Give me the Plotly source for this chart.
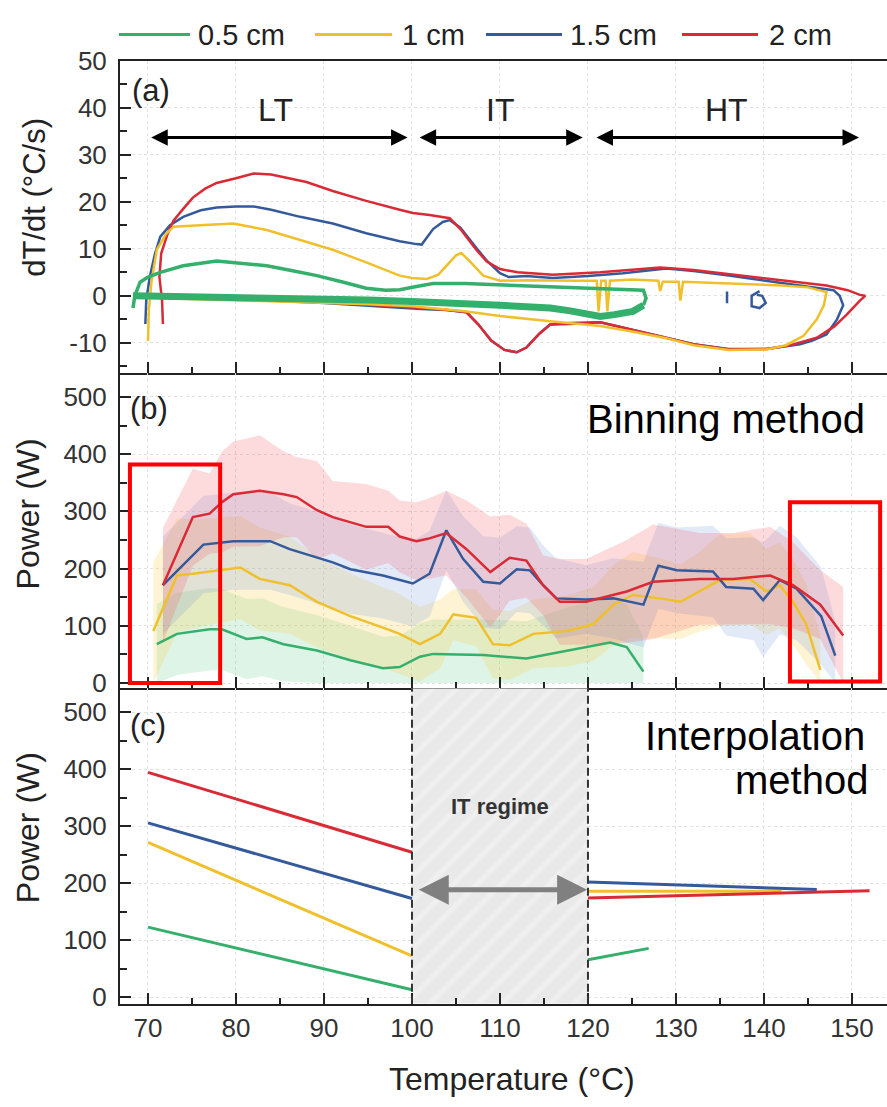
import plotly.graph_objects as go

# ---------------- data ----------------
SERIES = ["0.5 cm", "1 cm", "1.5 cm", "2 cm"]
COLORS = ["#35b06c", "#f0c02c", "#355a9c", "#d92a35"]
BAND_COLORS = ["rgba(70,195,115,0.18)", "rgba(250,205,60,0.22)",
               "rgba(110,150,220,0.2)", "rgba(245,90,100,0.22)"]

X_TICKS = [70, 80, 90, 100, 110, 120, 130, 140, 150]
A_TICKS = [-10, 0, 10, 20, 30, 40, 50]
P_TICKS = [0, 100, 200, 300, 400, 500]
IT_REGIME = [100, 120]

# panel (a): dT/dt vs temperature (heating then cooling loop)
a_x_2 = [71.7, 71.6, 71.3, 71.5, 72.2, 72.9, 74.0, 75.1, 76.5, 77.8, 80.0, 82.0, 84.0, 85.4, 88.0, 91.0, 94.8, 98.6,
         100.1, 102.0, 104.3, 105.5, 107.3, 108.5, 110.0, 112.0, 116.0, 121.4, 125.0, 128.2, 132.0, 136.0, 140.3,
         144.0, 147.1, 149.5, 150.9, 151.5, 150.9, 149.4, 148.0, 146.0, 143.0, 140.3, 136.0, 132.0, 128.9, 125.0,
         121.4, 118.0, 115.7, 114.5, 113.0, 111.9, 110.5, 109.0, 107.5, 106.2, 104.0, 101.0, 98.6, 95.0, 90.0,
         85.0, 80.0, 75.0, 72.0]
a_y_2 = [-6, -1, 4, 9, 13, 16, 18.5, 20.9, 22.8, 24, 25, 26, 25.8, 25.2, 24.2, 22.3, 20.2, 18.3,
         17.6, 17.2, 16.5, 14.2, 9.8, 7.3, 5.7, 5, 4.5, 5, 5.5, 6, 5.5, 4.6, 3.6,
         2.8, 2.2, 1.2, 0.2, 0, -1, -4, -6.5, -8.9, -10.5, -11.3, -11.4, -10.3, -8.9, -7.3,
         -5.6, -6, -6.1, -8, -11, -12, -11.5, -9.5, -6, -3.5, -3, -2.6, -2.3, -1.8, -1.3,
         -1, -0.6, -0.3, 0]

a_x_15 = [69.7, 69.8, 70.2, 70.8, 71.4, 72.5, 74.0, 76.0, 77.8, 80.0, 82.0, 84.0, 87.3, 91.0, 94.8, 98.6, 100.5,
          101.1, 102.4, 103.5, 104.3, 105.5, 107.3, 108.5, 110.0, 111.0, 113.0, 116.0, 120.0, 124.0, 128.9, 132.0,
          136.0, 140.3, 144.0, 147.9, 148.6, 149.0, 148.3, 147.1, 145.5, 144.1, 140.3, 136.0, 132.0, 128.9, 125.0,
          121.4, 118.0, 115.7, 114.5, 113.0, 111.9, 110.5, 109.0, 107.5, 106.2, 104.0, 101.0, 98.6, 95.0, 90.0,
          85.0, 80.0, 75.0, 70.0,
          None, 135.8, 135.8,
          None, 139.5, 138.6, 138.6, 139.5, 140.2, 139.8, 139.2]
a_y_15 = [-6, -1, 4, 9, 12.6, 15, 16.8, 18.2, 18.8, 19, 19, 18.3, 16.8, 15.4, 13.3, 11.6, 11,
          10.9, 14.2, 15.7, 16.1, 14.5, 10.2, 7.5, 4.8, 4, 4.2, 3.8, 4.2, 4.8, 5.8, 5.3,
          4.3, 3.2, 2.2, 1.2, 0, -2, -5, -8.2, -9.5, -10.3, -11.3, -11.3, -10.3, -8.9, -7.3,
          -5.6, -5.8, -6.1, -8, -11, -12, -11.5, -9.5, -6, -3.5, -3, -2.8, -2.5, -2, -1.5,
          -1.1, -0.7, -0.4, 0,
          None, 0.9, -1.6,
          None, 1.0, 0, -2.2, -2.6, -1.5, 0, 0.2]

a_x_1 = [70.0, 70.1, 70.4, 71.0, 72.0, 72.9, 75.9, 79.7, 83.5, 87.3, 91.0, 94.8, 98.6, 100.0, 101.7, 103.0, 103.9,
         105.0, 105.6, 106.5, 108.1, 110.0, 113.0, 116.0, 119.0, 121.0, 121.2, 121.5, 122.0, 122.2, 122.5, 125.0,
         128.0, 128.2, 128.5, 130.3, 130.5, 130.8, 134.0, 138.0, 142.0, 145.0, 147.1, 146.8, 146.0, 144.5, 142.5,
         140.3, 136.0, 132.0, 128.9, 125.0, 121.4, 115.7, 110.0, 106.0, 100.0, 95.0, 90.0, 80.0, 72.0, 70.0]
a_y_1 = [-9.6, -3, 3, 9.8, 13, 14.7, 15, 15.4, 14, 11.9, 9.8, 7.1, 4.3, 3.8, 3.6, 4.5, 6.4,
         8.6, 9.1, 7.5, 4.3, 3.2, 3.3, 3.2, 3.2, 3.2, -3.3, 3.2, 3.2, -3.3, 3.2, 3.5,
         3.2, 1.0, 3.0, 3.0, -1.0, 3.0, 2.8, 2.6, 2.2, 1.8, 0.8, -2.0, -5.0, -8.5, -10.5,
         -11.4, -11.5, -10.5, -9.0, -7.6, -6.4, -5.4, -4.3, -3.3, -2.2, -1.8, -1.5, -1.0, -0.5, 0]

a_x_05_heat = [68.3, 68.5, 69.1, 70.0, 71.4, 74.0, 77.8, 80.0, 83.5, 86.0, 89.2, 92.0, 94.8, 97.0, 98.6, 100.5,
               102.4, 106.0, 110.0, 115.0, 120.0, 126.3, 126.6, 126.3]
a_y_05_heat = [-2.6, 0, 2.9, 4.0, 5.0, 6.4, 7.4, 7.0, 6.4, 5.5, 4.3, 3.0, 1.6, 1.2, 1.3, 2.0,
               2.6, 2.6, 2.3, 2.0, 1.6, 1.2, -0.5, -2.0]
a_x_05_cool = [126.3, 125.1, 123.0, 121.4, 118.0, 115.7, 110.0, 105.0, 100.0, 95.0, 90.0, 85.0, 80.0, 75.0, 70.0, 68.3]
a_y_05_cool = [-2.0, -3.3, -4.0, -4.4, -3.2, -2.6, -2.0, -1.5, -1.2, -0.9, -0.7, -0.5, -0.3, -0.2, 0.0, 0.0]

# panel (b): binning method, mean and spread
b_x_05 = [71.0, 73.3, 77.0, 78.4, 81.2, 83.0, 85.4, 89.2, 93.0, 96.7, 98.6, 100.9, 102.4, 108.1, 113.0, 117.6,
          122.5, 124.4, 126.3]
b_m_05 = [68, 86, 94, 94, 77, 80, 68, 57, 40, 26, 28, 46, 51, 49, 43, 57, 71, 63, 20]
b_s_05 = [70, 72, 72, 71, 70, 68, 65, 62, 60, 55, 55, 58, 60, 62, 65, 75, 78, 75, 60]

b_x_1 = [70.6, 73.3, 75.1, 80.5, 82.7, 86.1, 89.2, 93.0, 96.7, 98.6, 100.9, 103.2, 104.7, 107.3, 109.2, 111.1,
         113.8, 117.6, 120.6, 122.9, 125.1, 128.2, 130.5, 132.7, 135.0, 138.4, 140.3, 141.8, 143.3, 144.8, 146.4]
b_m_1 = [91, 188, 191, 202, 182, 171, 142, 117, 97, 86, 68, 86, 120, 114, 68, 66,
         86, 91, 103, 137, 154, 148, 142, 160, 180, 182, 160, 171, 142, 103, 23]
b_s_1 = [120, 100, 95, 90, 90, 85, 80, 75, 70, 70, 65, 60, 45, 50, 60, 60,
         60, 62, 65, 70, 75, 70, 65, 70, 80, 80, 75, 75, 75, 70, 60]

b_x_15 = [71.7, 76.3, 79.7, 83.9, 86.1, 89.2, 91.0, 93.0, 96.7, 100.1, 102.0, 103.9, 105.8, 108.1, 110.0, 111.9,
          113.4, 114.9, 116.4, 119.8, 122.9, 126.3, 128.0, 130.1, 134.2, 135.7, 138.8, 139.9, 141.8, 143.7, 146.5,
          148.1]
b_m_15 = [171, 242, 248, 248, 234, 219, 211, 199, 188, 174, 191, 267, 217, 177, 174, 199,
          197, 171, 148, 146, 148, 137, 205, 197, 195, 168, 165, 145, 180, 165, 117, 48]
b_s_15 = [85, 85, 85, 85, 80, 80, 80, 78, 75, 75, 75, 70, 75, 80, 80, 75,
          75, 70, 70, 60, 70, 75, 75, 75, 80, 85, 90, 100, 95, 90, 85, 60]

b_x_2 = [71.7, 75.1, 77.0, 78.4, 79.7, 82.7, 85.4, 86.9, 89.2, 91.0, 94.8, 97.3, 98.6, 100.5, 101.8, 103.9,
         106.2, 108.9, 111.1, 113.0, 114.9, 116.8, 119.8, 124.4, 127.4, 132.7, 136.5, 140.7, 143.3, 146.4, 149.0]
b_m_2 = [171, 290, 296, 316, 330, 336, 330, 325, 302, 290, 273, 273, 256, 248, 252, 262,
         234, 194, 219, 214, 171, 142, 142, 160, 177, 182, 182, 188, 171, 137, 83]
b_s_2 = [100, 85, 70, 88, 92, 97, 75, 70, 86, 63, 75, 63, 63, 68, 70, 74,
         85, 97, 75, 65, 52, 75, 75, 90, 100, 80, 80, 85, 75, 60, 85]

# panel (c): interpolation method (LT and HT segments)
c_lt_x = [70, 100]
c_lt_y = {"0.5 cm": [123, 13.2], "1 cm": [271.5, 72.6], "1.5 cm": [305.8, 173.2], "2 cm": [394.5, 254.4]}
c_ht_x = {"0.5 cm": [120, 126.9], "1 cm": [120, 142], "1.5 cm": [120, 146], "2 cm": [120, 152]}
c_ht_y = {"0.5 cm": [65.7, 85.8], "1 cm": [186, 186], "1.5 cm": [202, 189], "2 cm": [174, 187]}

# ---------------- figure ----------------
FONT = "Liberation Sans, Arial, sans-serif"
W, H = 887, 1107
XR = [66.82, 153.98]
YA_R = [-16.5, 50]
YB_R = [-9.0, 541]
YC_R = [-11.5, 542]
XD = [120 / W, 1.0]
DA = [1 - 366.7 / H, 1 - 46.8 / H]
DB = [1 - 688.8 / H, 1 - 366.7 / H]
DC = [1 - 1011.7 / H, 1 - 688.8 / H]

fig = go.Figure()

a_sets = [
    ("1.5 cm", a_x_15, a_y_15, 2.5),
    ("2 cm", a_x_2, a_y_2, 2.5),
    ("1 cm", a_x_1, a_y_1, 2.5),
    ("0.5 cm", a_x_05_heat, a_y_05_heat, 3.5),
    ("0.5 cm", a_x_05_cool, a_y_05_cool, 7),
]
for name, xs, ys, w in a_sets:
    fig.add_trace(go.Scatter(x=xs, y=ys, mode="lines", name=name, showlegend=False,
                             line=dict(color=COLORS[SERIES.index(name)], width=w),
                             xaxis="x", yaxis="y", connectgaps=False))

b_sets = [("0.5 cm", b_x_05, b_m_05, b_s_05), ("1 cm", b_x_1, b_m_1, b_s_1),
          ("1.5 cm", b_x_15, b_m_15, b_s_15), ("2 cm", b_x_2, b_m_2, b_s_2)]
for name, xs, ms, ss in b_sets:
    up = [m + s for m, s in zip(ms, ss)]
    lo = [max(m - s, 0) for m, s in zip(ms, ss)]
    fig.add_trace(go.Scatter(x=xs + xs[::-1], y=up + lo[::-1], fill="toself", mode="lines",
                             line=dict(width=0), fillcolor=BAND_COLORS[SERIES.index(name)],
                             showlegend=False, hoverinfo="skip", xaxis="x2", yaxis="y2"))
for name, xs, ms, ss in b_sets:
    fig.add_trace(go.Scatter(x=xs, y=ms, mode="lines", showlegend=False, name=name,
                             line=dict(color=COLORS[SERIES.index(name)], width=2.5),
                             xaxis="x2", yaxis="y2"))

# IT regime hatched area in (c)
fig.add_trace(go.Scatter(x=[IT_REGIME[0], IT_REGIME[1], IT_REGIME[1], IT_REGIME[0]],
                         y=[YC_R[0], YC_R[0], YC_R[1], YC_R[1]], fill="toself", mode="lines",
                         line=dict(width=0), fillcolor="#e9e9e9",
                         fillpattern=dict(shape="/", bgcolor="#e9e9e9", fgcolor="#f6f6f6", size=17, solidity=0.3),
                         showlegend=False, hoverinfo="skip", xaxis="x3", yaxis="y3"))
for name in SERIES:
    c = COLORS[SERIES.index(name)]
    fig.add_trace(go.Scatter(x=c_lt_x, y=c_lt_y[name], mode="lines", showlegend=False,
                             line=dict(color=c, width=3), xaxis="x3", yaxis="y3"))
    fig.add_trace(go.Scatter(x=c_ht_x[name], y=c_ht_y[name], mode="lines", showlegend=False,
                             line=dict(color=c, width=3), xaxis="x3", yaxis="y3"))

TICKFONT = dict(family=FONT, size=26, color="#333")


def xax(anchor, labels):
    return dict(domain=XD, range=XR, anchor=anchor, showline=True, linecolor="#222", linewidth=2,
                ticks="inside", ticklen=11, tickwidth=1.5, tickcolor="#222",
                tickmode="array", tickvals=X_TICKS, ticktext=[str(t) for t in X_TICKS],
                showticklabels=labels, tickfont=TICKFONT, ticklabelstandoff=0,
                minor=dict(dtick=5, tick0=0, ticks="inside", ticklen=6, tickcolor="#222", showgrid=False),
                showgrid=True, gridcolor="#e2e2e2", griddash="dot", gridwidth=1, zeroline=False)


def yax(anchor, dom, rng, ticks, minor):
    return dict(domain=dom, range=rng, anchor=anchor, showline=True, linecolor="#222", linewidth=2,
                ticks="inside", ticklen=11, tickwidth=1.5, tickcolor="#222",
                tickmode="array", tickvals=ticks, ticktext=[str(t) for t in ticks],
                tickfont=TICKFONT, ticklabelstandoff=6,
                minor=dict(dtick=minor, tick0=0, ticks="inside", ticklen=7, tickcolor="#222", showgrid=False),
                showgrid=True, gridcolor="#e2e2e2", griddash="dot", gridwidth=1, zeroline=False)


xa = xax("y", False)
xa.update(mirror=True)
fig.update_layout(
    width=W, height=H, autosize=False, margin=dict(l=0, r=0, t=0, b=0),
    paper_bgcolor="white", plot_bgcolor="white", showlegend=False,
    xaxis=xa, xaxis2=xax("y2", False), xaxis3=xax("y3", True),
    yaxis=yax("x", DA, YA_R, A_TICKS, 5),
    yaxis2=yax("x2", DB, YB_R, P_TICKS, 50),
    yaxis3=yax("x3", DC, YC_R, P_TICKS, 50),
)
fig.layout.xaxis2.matches = "x"
fig.layout.xaxis3.matches = "x"

ann = []
shapes = []
TXT = dict(family=FONT, color="#222")
MID = dict(xanchor="center", yanchor="middle")

# axis titles
ann.append(dict(text="dT/dt (°C/s)", x=35 / W, y=1 - 187 / H, xref="paper", yref="paper", showarrow=False,
                textangle=-90, font=dict(size=31, **TXT), **MID))
ann.append(dict(text="Power (W)", x=28 / W, y=1 - 511 / H, xref="paper", yref="paper", showarrow=False,
                textangle=-90, font=dict(size=32, **TXT), **MID))
ann.append(dict(text="Power (W)", x=28 / W, y=1 - 832 / H, xref="paper", yref="paper", showarrow=False,
                textangle=-90, font=dict(size=32, **TXT), **MID))
ann.append(dict(text="Temperature (°C)", x=512 / W, y=1 - 1089 / H, xref="paper", yref="paper",
                showarrow=False, font=dict(size=32, **TXT), **MID))

# panel labels
for lab, xx, yy, xr, yr in [("(a)", 70.3, 43.7, "x", "y"), ("(b)", 70.1, 479, "x2", "y2"),
                            ("(c)", 70.0, 476, "x3", "y3")]:
    ann.append(dict(text=lab, x=xx, y=yy, xref=xr, yref=yr, showarrow=False, font=dict(size=31, **TXT), **MID))

# regimes in (a)
for lab, xx in [("LT", 84.5), ("IT", 110.0), ("HT", 135.7)]:
    ann.append(dict(text=lab, x=xx, y=39.6, xref="x", yref="y", showarrow=False, font=dict(size=32, **TXT),
                    **MID))
for x0, x1 in [(70.2, 99.5), (100.7, 119.4), (120.8, 150.8)]:
    ann.append(dict(text="", x=x1, y=33.7, ax=x0, ay=33.7, xref="x", yref="y", axref="x", ayref="y",
                    showarrow=True, arrowside="end+start", arrowhead=2, startarrowhead=2,
                    arrowsize=1.1, startarrowsize=1.1, arrowwidth=3, arrowcolor="black", standoff=0,
                    startstandoff=0))

ann.append(dict(text="Binning method", x=151.7, y=462, xref="x2", yref="y2", xanchor="right", yanchor="middle",
                showarrow=False, font=dict(size=40, family=FONT, color="black")))
ann.append(dict(text="Interpolation", x=151.7, y=459, xref="x3", yref="y3", xanchor="right", yanchor="middle",
                showarrow=False, font=dict(size=40, family=FONT, color="black")))
ann.append(dict(text="method", x=152.1, y=380.5, xref="x3", yref="y3", xanchor="right", yanchor="middle",
                showarrow=False, font=dict(size=40, family=FONT, color="black")))
ann.append(dict(text="<b>IT regime</b>", x=110, y=334, xref="x3", yref="y3", showarrow=False,
                font=dict(size=22, family=FONT, color="#333"), **MID))
ann.append(dict(text="", x=119.9, y=188.7, ax=100.6, ay=188.7, xref="x3", yref="y3", axref="x3", ayref="y3",
                showarrow=True, arrowside="end+start", arrowhead=2, startarrowhead=2,
                arrowsize=1.2, startarrowsize=1.2, arrowwidth=5, arrowcolor="#808080", standoff=0,
                startstandoff=0))

# dashed IT regime borders
for xv in IT_REGIME:
    shapes.append(dict(type="line", xref="x3", yref="y3 domain", x0=xv, x1=xv, y0=0, y1=1,
                       line=dict(color="#333", width=2, dash="8px,4px")))

# red highlight boxes in (b)
for x0, x1, y0, y1 in [(67.95, 78.2, 0, 382), (142.95, 153.2, 3, 316)]:
    shapes.append(dict(type="rect", xref="x2", yref="y2", x0=x0, x1=x1, y0=y0, y1=y1,
                       line=dict(color="#ff0000", width=4)))

# legend (drawn manually for long line samples)
LEG_LINES = [(119, 190), (315, 392), (486, 562), (682, 758)]
LEG_TEXT_X = [196, 400, 568, 767]
ly = 1 - 20 / H
for i, name in enumerate(SERIES):
    shapes.append(dict(type="line", xref="paper", yref="paper", x0=LEG_LINES[i][0] / W, x1=LEG_LINES[i][1] / W,
                       y0=ly, y1=ly, line=dict(color=COLORS[i], width=3)))
    ann.append(dict(text=name, x=LEG_TEXT_X[i] / W, y=ly, xref="paper", yref="paper", xanchor="left",
                    yanchor="middle", showarrow=False, font=dict(size=29, **TXT)))

fig.update_layout(annotations=ann, shapes=shapes)
fig.write_html("out.html")
